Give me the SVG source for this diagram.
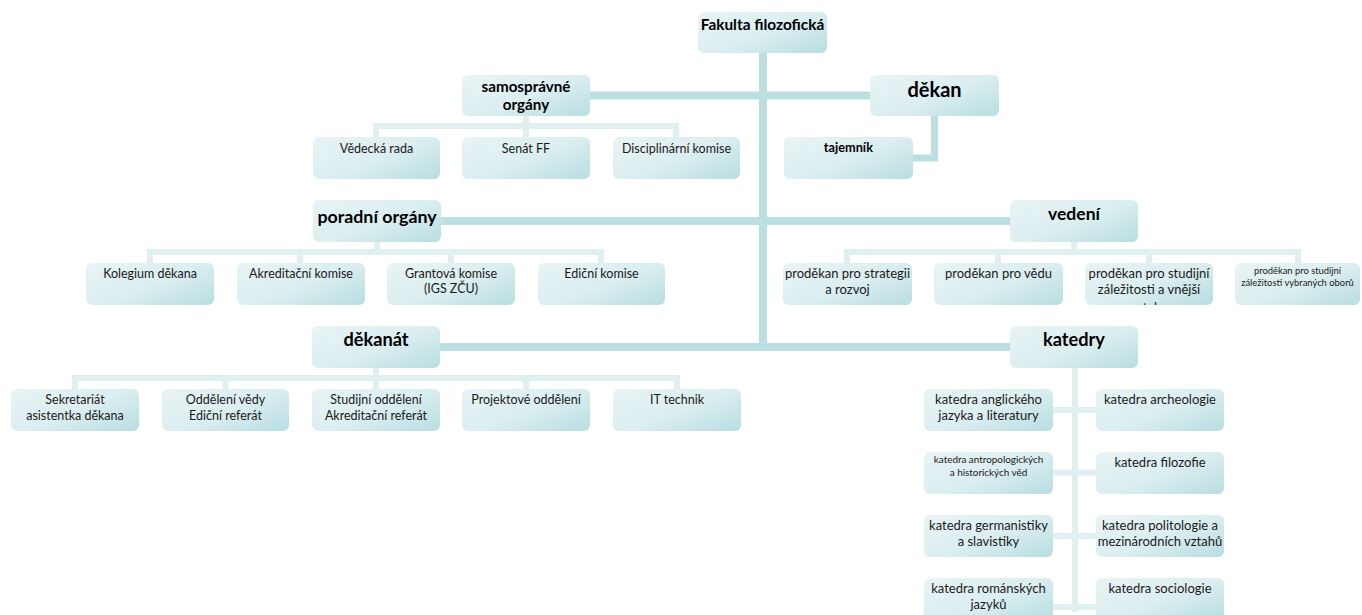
<svg xmlns="http://www.w3.org/2000/svg" width="1362" height="615" viewBox="0 0 1362 615">
<defs>
<linearGradient id="bg" x1="0" y1="0.15" x2="1" y2="0.95">
<stop offset="0" stop-color="#E7F3F4"/>
<stop offset="0.5" stop-color="#DBEEF0"/>
<stop offset="1" stop-color="#B9DEE2"/>
</linearGradient>
<clipPath id="clip3"><rect x="1085" y="263" width="128" height="42"/></clipPath>
<style>
.box{fill:url(#bg)}
.t{font-family:Lato,"Open Sans","Liberation Sans",sans-serif;font-size:12.5px;fill:#1a1a1a;text-anchor:middle}
.m{font-size:13px}
.b{font-weight:bold;fill:#000}
.s{font-size:9.4px}
.main{stroke:#BCDFE2;stroke-width:8;fill:none}
.sub{stroke:#E0F0F1;stroke-width:6;fill:none}
</style>
</defs>
<g id="connectors">
<path class="main" d="M763,53 V351 M590,95.5 H870 M441,221 H1010 M440,347 H1012"/>
<path class="main" d="M934.5,116 V158 H913" style="stroke-width:7"/>
<path class="sub" d="M376,137 V126 H676 V137 M526,116 V137"/>
<path class="sub" d="M150,263 V252 H601 V263 M300,252 V263 M451,252 V263 M377,242 V252"/>
<path class="sub" d="M847,263 V252 H1298 V263 M998,252 V263 M1149,252 V263 M1074,242 V252"/>
<path class="sub" d="M75,389 V378 H677 V389 M225.5,378 V389 M376,368 V389 M526,378 V389"/>
<path class="sub" d="M1075,368 V612 M1053,410 H1096 M1053,472.5 H1096 M1053,536 H1096 M1053,607 H1096"/>
</g>
<g id="fakulta"><rect class="box" x="698" y="12" width="129" height="41" rx="6"/><text class="t b" x="762.5" y="30" style="font-size:15.4px">Fakulta filozofická</text></g>
<g id="samospravne"><rect class="box" x="462" y="75" width="128" height="41" rx="6"/><text class="t b" style="font-size:15.2px"><tspan x="526" y="92">samosprávné</tspan><tspan x="526" y="110">orgány</tspan></text></g>
<g id="dekan"><rect class="box" x="870" y="75" width="129" height="41" rx="6"/><text class="t b" x="934.5" y="97" style="font-size:20px">děkan</text></g>
<g id="vedecka"><rect class="box" x="313" y="137" width="127" height="42" rx="6"/><text class="t" x="376.5" y="153">Vědecká rada</text></g>
<g id="senat"><rect class="box" x="462" y="137" width="128" height="42" rx="6"/><text class="t" x="526" y="153">Senát FF</text></g>
<g id="disciplinarni"><rect class="box" x="613" y="137" width="127" height="42" rx="6"/><text class="t" x="676.5" y="153">Disciplinární komise</text></g>
<g id="tajemnik"><rect class="box" x="784" y="137" width="129" height="42" rx="6"/><text class="t b" x="848.5" y="152" style="font-size:12.7px">tajemník</text></g>
<g id="poradni"><rect class="box" x="313" y="200" width="128" height="42" rx="6"/><text class="t b" x="377" y="223" style="font-size:17.8px">poradní orgány</text></g>
<g id="vedeni"><rect class="box" x="1010" y="200" width="128" height="42" rx="6"/><text class="t b" x="1074" y="220" style="font-size:17.5px">vedení</text></g>
<g id="kolegium"><rect class="box" x="86" y="263" width="128" height="42" rx="6"/><text class="t" x="150" y="278">Kolegium děkana</text></g>
<g id="akreditacni"><rect class="box" x="237" y="263" width="128" height="42" rx="6"/><text class="t" x="301" y="278">Akreditační komise</text></g>
<g id="grantova"><rect class="box" x="387" y="263" width="128" height="42" rx="6"/><text class="t"><tspan x="451" y="278">Grantová komise</tspan><tspan x="451" y="293">(IGS ZČU)</tspan></text></g>
<g id="edicni"><rect class="box" x="538" y="263" width="127" height="42" rx="6"/><text class="t" x="601.5" y="278">Ediční komise</text></g>
<g id="prodekan1"><rect class="box" x="783" y="263" width="129" height="42" rx="6"/><text class="t m"><tspan x="847.5" y="278">proděkan pro strategii</tspan><tspan x="847.5" y="294">a rozvoj</tspan></text></g>
<g id="prodekan2"><rect class="box" x="934" y="263" width="129" height="42" rx="6"/><text class="t m" x="998.5" y="278">proděkan pro vědu</text></g>
<g id="prodekan3"><rect class="box" x="1085" y="263" width="128" height="42" rx="6"/><text class="t m" clip-path="url(#clip3)"><tspan x="1149" y="278">proděkan pro studijní</tspan><tspan x="1149" y="294">záležitosti a vnější</tspan><tspan x="1149" y="312">vztahy</tspan></text></g>
<g id="prodekan4"><rect class="box" x="1235" y="263" width="125" height="42" rx="6"/><text class="t s"><tspan x="1297.5" y="274">proděkan pro studijní</tspan><tspan x="1297.5" y="286">záležitosti vybraných oborů</tspan></text></g>
<g id="dekanat"><rect class="box" x="312" y="326" width="128" height="42" rx="6"/><text class="t b" x="376" y="346" style="font-size:18.2px">děkanát</text></g>
<g id="katedry"><rect class="box" x="1010" y="326" width="128" height="42" rx="6"/><text class="t b" x="1074" y="346" style="font-size:18.2px">katedry</text></g>
<g id="sekretariat"><rect class="box" x="11" y="389" width="128" height="42" rx="6"/><text class="t"><tspan x="75" y="404">Sekretariát</tspan><tspan x="75" y="420">asistentka děkana</tspan></text></g>
<g id="oddeleni"><rect class="box" x="162" y="389" width="127" height="42" rx="6"/><text class="t"><tspan x="225.5" y="404">Oddělení vědy</tspan><tspan x="225.5" y="420">Ediční referát</tspan></text></g>
<g id="studijni"><rect class="box" x="312" y="389" width="128" height="42" rx="6"/><text class="t"><tspan x="376" y="404">Studijní oddělení</tspan><tspan x="376" y="420">Akreditační referát</tspan></text></g>
<g id="projektove"><rect class="box" x="462" y="389" width="128" height="42" rx="6"/><text class="t" x="526" y="404">Projektové oddělení</text></g>
<g id="it"><rect class="box" x="613" y="389" width="128" height="42" rx="6"/><text class="t" x="677" y="404">IT technik</text></g>
<g id="k-anglicky"><rect class="box" x="924" y="389" width="129" height="42" rx="6"/><text class="t m"><tspan x="988.5" y="404">katedra anglického</tspan><tspan x="988.5" y="420">jazyka a literatury</tspan></text></g>
<g id="k-archeologie"><rect class="box" x="1096" y="389" width="128" height="42" rx="6"/><text class="t m" x="1160" y="404">katedra archeologie</text></g>
<g id="k-antropologie"><rect class="box" x="924" y="452" width="129" height="42" rx="6"/><text class="t" style="font-size:9.9px"><tspan x="988.5" y="463">katedra antropologických</tspan><tspan x="988.5" y="476">a historických věd</tspan></text></g>
<g id="k-filozofie"><rect class="box" x="1096" y="452" width="128" height="42" rx="6"/><text class="t m" x="1160" y="467">katedra filozofie</text></g>
<g id="k-germanistika"><rect class="box" x="924" y="515" width="129" height="42" rx="6"/><text class="t m"><tspan x="988.5" y="530">katedra germanistiky</tspan><tspan x="988.5" y="546">a slavistiky</tspan></text></g>
<g id="k-politologie"><rect class="box" x="1096" y="515" width="128" height="42" rx="6"/><text class="t m"><tspan x="1160" y="530">katedra politologie a</tspan><tspan x="1160" y="546">mezinárodních vztahů</tspan></text></g>
<g id="k-romanske"><rect class="box" x="924" y="578" width="129" height="42" rx="6"/><text class="t m"><tspan x="988.5" y="593">katedra románských</tspan><tspan x="988.5" y="609">jazyků</tspan></text></g>
<g id="k-sociologie"><rect class="box" x="1096" y="578" width="128" height="42" rx="6"/><text class="t m" x="1160" y="593">katedra sociologie</text></g>
</svg>
